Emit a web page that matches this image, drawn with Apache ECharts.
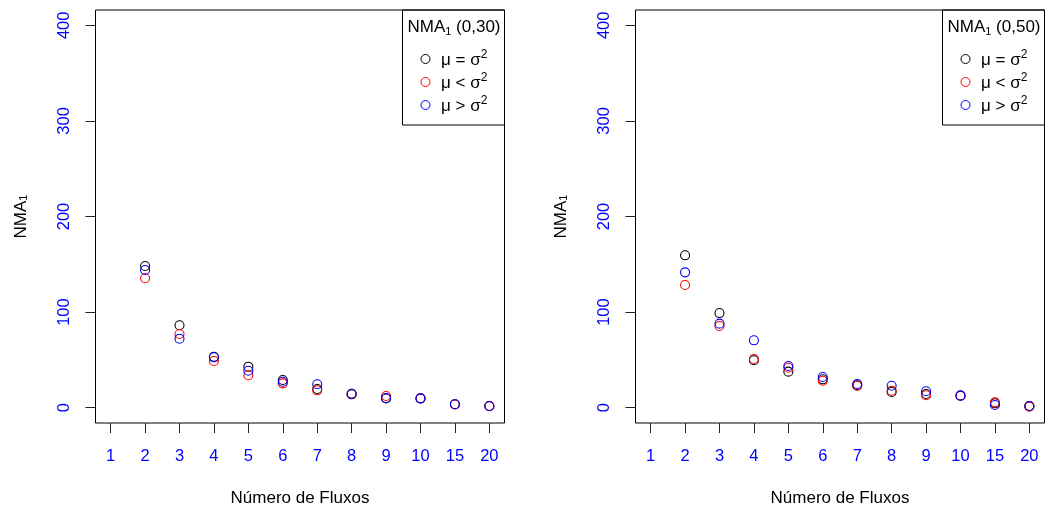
<!DOCTYPE html>
<html>
<head>
<meta charset="utf-8">
<script src="https://cdn.jsdelivr.net/npm/echarts@6/dist/echarts.min.js"></script>
<style>
html,body{margin:0;padding:0;background:#fff;}
#c{width:1045px;height:509px;}
</style>
</head>
<body>
<div id="c"></div>
<script>
// ---- data ----
const xLabels = ['1','2','3','4','5','6','7','8','9','10','15','20'];
const yTicks = [0, 100, 200, 300, 400];
const panelTitles = ['(0,30)', '(0,50)'];
// panel 1: NMA1 (0,30)
const p1Eq = [null, 148.2, 86.2, 53.3, 42.9, 29.0, 19.6, 14.0, 9.6, 9.8, 3.6, 1.8];
const p1Lt = [null, 135.4, 77.1, 48.8, 33.9, 25.5, 18.2, 14.6, 12.2, 9.8, 3.3, 1.5];
const p1Gt = [null, 144.0, 72.2, 52.7, 38.7, 27.2, 24.5, 14.6, 10.1, 9.8, 3.6, 1.8];
// panel 2: NMA1 (0,50)
const p2Eq = [null, 159.4, 99.0, 49.6, 37.7, 29.7, 23.4, 16.4, 14.3, 12.6, 4.6, 1.8];
const p2Lt = [null, 128.3, 85.5, 50.9, 41.8, 28.2, 23.0, 17.8, 13.0, 12.6, 5.6, 1.0];
const p2Gt = [null, 141.6, 87.9, 70.5, 43.6, 32.1, 24.8, 23.0, 17.2, 12.6, 2.8, 1.8];

const seriesNames = ['eq', 'lt', 'gt'];
const legendRich = { eq: '{t|μ = σ}{s|2}', lt: '{t|μ < σ}{s|2}', gt: '{t|μ > σ}{s|2}' };
const colors = { eq: '#000000', lt: '#FF0000', gt: '#0000FF' };

const FONT = '"Liberation Sans", Arial, Helvetica, sans-serif';
const grids = [
  { left: 95.5, top: 10, width: 409, height: 413 },
  { left: 635.5, top: 10, width: 409, height: 413 }
];

function pts(arr) {
  const out = [];
  arr.forEach((v, i) => { if (v !== null) out.push([i + 1, v]); });
  return out;
}

const panelData = [[p1Eq, p1Lt, p1Gt], [p2Eq, p2Lt, p2Gt]];

const option = {
  backgroundColor: '#ffffff',
  animation: false,
  textStyle: { fontFamily: FONT },
  grid: grids.map(g => Object.assign({ show: true, borderColor: '#000', borderWidth: 1, backgroundColor: 'transparent',
    containLabel: false, outerBoundsMode: 'none' }, g)),
  xAxis: grids.map((g, gi) => ({
    type: 'value', gridIndex: gi, min: 0.56, max: 12.44, position: 'bottom',
    name: 'Número de Fluxos', nameLocation: 'middle', nameGap: 67,
    nameTextStyle: { fontSize: 17, color: '#000', fontFamily: FONT },
    axisLine: { show: false, onZero: false },
    splitLine: { show: false },
    axisTick: { show: true, inside: false, length: 10, lineStyle: { color: '#222', width: 1 }, customValues: xLabels.map((_, i) => i + 1) },
    axisLabel: { show: true, margin: 25, fontSize: 16.5, color: '#0000FF', fontFamily: FONT,
      customValues: xLabels.map((_, i) => i + 1),
      formatter: v => xLabels[Math.round(v) - 1] }
  })),
  yAxis: grids.map((g, gi) => ({
    type: 'value', gridIndex: gi, min: -16, max: 416, position: 'left',
    name: '{a|NMA}{b|1}', nameLocation: 'middle', nameGap: 66, nameRotate: 90,
    nameTextStyle: { fontFamily: FONT, color: '#000',
      rich: { a: { fontSize: 17, color: '#000', lineHeight: 20, verticalAlign: 'bottom', fontFamily: FONT },
              b: { fontSize: 11, color: '#000', lineHeight: 20, verticalAlign: 'bottom', fontFamily: FONT } } },
    axisLine: { show: false, onZero: false },
    splitLine: { show: false },
    axisTick: { show: true, inside: false, length: 10, lineStyle: { color: '#222', width: 1 }, customValues: yTicks },
    axisLabel: { show: true, rotate: 90, margin: 23, fontSize: 16.5, color: '#0000FF', fontFamily: FONT,
      customValues: yTicks }
  })),
  title: grids.map((g, gi) => ({
    text: '{a|NMA}{b|1}{a| ' + panelTitles[gi] + '}',
    left: g.left + g.width - 97, top: 14,
    padding: 0,
    textStyle: { fontFamily: FONT, fontWeight: 'normal',
      rich: { a: { fontSize: 17, color: '#000', lineHeight: 22, verticalAlign: 'bottom', fontFamily: FONT },
              b: { fontSize: 11, color: '#000', lineHeight: 22, verticalAlign: 'bottom', fontFamily: FONT, padding: [0, 0, -1, 0] } } }
  })),
  legend: grids.map((g, gi) => ({
    orient: 'vertical',
    left: g.left + g.width - 84, top: 49,
    padding: 0,
    itemGap: 3,
    itemWidth: 9, itemHeight: 9,
    data: seriesNames.map(n => ({ name: n, icon: 'circle',
      itemStyle: { color: 'rgba(0,0,0,0)', borderColor: colors[n], borderWidth: 1, opacity: 1 } })),
    selectedMode: false,
    formatter: n => legendRich[n],
    textStyle: { fontFamily: FONT, color: '#000', padding: [0, 0, 0, 6],
      rich: { t: { fontSize: 17, color: '#000', lineHeight: 20, verticalAlign: 'bottom', fontFamily: FONT },
              s: { fontSize: 12, color: '#000', lineHeight: 20, verticalAlign: 'top', fontFamily: FONT } } }
  })),
  graphic: grids.map(g => ({
    type: 'rect',
    shape: { x: g.left + g.width - 102, y: g.top, width: 102, height: 115 },
    style: { fill: 'rgba(0,0,0,0)', stroke: '#000', lineWidth: 1 },
    z: 10
  })),
  series: []
};

panelData.forEach((arrs, gi) => {
  arrs.forEach((arr, si) => {
    const n = seriesNames[si];
    option.series.push({
      type: 'scatter', name: n, xAxisIndex: gi, yAxisIndex: gi,
      data: pts(arr),
      symbol: 'circle', symbolSize: 9,
      itemStyle: { color: 'rgba(0,0,0,0)', borderColor: colors[n], borderWidth: 1.1, opacity: 1 },
      emphasis: { disabled: true }
    });
  });
});

const chart = echarts.init(document.getElementById('c'), null, { renderer: 'canvas' });
chart.setOption(option);
</script>
</body>
</html>
